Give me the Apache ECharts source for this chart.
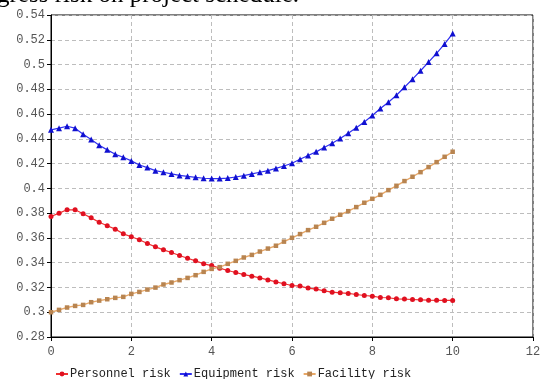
<!DOCTYPE html>
<html>
<head>
<meta charset="utf-8">
<script src="https://cdn.jsdelivr.net/npm/echarts@6/dist/echarts.min.js"></script>
<style>html,body{margin:0;padding:0;background:#fff}#c{width:545px;height:379px}</style>
</head>
<body>
<div id="c"></div>
<script>
const xValues = [0,0.2,0.4,0.6,0.8,1,1.2,1.4,1.6,1.8,2,2.2,2.4,2.6,2.8,3,3.2,3.4,3.6,3.8,4,4.2,4.4,4.6,4.8,5,5.2,5.4,5.6,5.8,6,6.2,6.4,6.6,6.8,7,7.2,7.4,7.6,7.8,8,8.2,8.4,8.6,8.8,9,9.2,9.4,9.6,9.8,10];
const personnel = [0.3773,0.3800,0.3827,0.3827,0.3795,0.3762,0.3727,0.3698,0.3671,0.3633,0.3609,0.3585,0.3555,0.3528,0.3504,0.3482,0.3458,0.3436,0.3415,0.3391,0.3377,0.3356,0.3337,0.3321,0.3304,0.3291,0.3277,0.3261,0.3245,0.3230,0.3216,0.3211,0.3195,0.3187,0.3173,0.3162,0.3157,0.3152,0.3143,0.3135,0.3130,0.3119,0.3117,0.3108,0.3106,0.3103,0.3100,0.3097,0.3096,0.3095,0.3095];
const equipment = [0.4473,0.4486,0.4502,0.4486,0.4437,0.4394,0.4348,0.4311,0.4275,0.4251,0.4222,0.4189,0.4168,0.4143,0.4130,0.4117,0.4105,0.4097,0.4089,0.4082,0.4079,0.4079,0.4083,0.4092,0.4103,0.4117,0.4130,0.4143,0.4161,0.4181,0.4203,0.4235,0.4265,0.4295,0.4330,0.4365,0.4403,0.4446,0.4490,0.4536,0.4588,0.4645,0.4696,0.4752,0.4817,0.4882,0.4950,0.5020,0.5091,0.5166,0.5250];
const facility = [0.3000,0.3019,0.3038,0.3051,0.3059,0.3081,0.3094,0.3105,0.3116,0.3124,0.3148,0.3164,0.3183,0.3199,0.3224,0.3240,0.3259,0.3277,0.3299,0.3326,0.3350,0.3364,0.3391,0.3415,0.3442,0.3463,0.3490,0.3514,0.3537,0.3570,0.3601,0.3631,0.3663,0.3690,0.3722,0.3755,0.3787,0.3816,0.3849,0.3884,0.3916,0.3948,0.3986,0.4021,0.4059,0.4094,0.4131,0.4172,0.4212,0.4255,0.4296];
const seriesNames = ['Personnel risk','Equipment risk','Facility risk'];
const xTicks = [0,2,4,6,8,10,12];
const yTicks = [0.28,0.30,0.32,0.34,0.36,0.38,0.40,0.42,0.44,0.46,0.48,0.50,0.52,0.54];
const titleText = 'gress risk on project schedule.';

function pairs(ys){ return xValues.map((x,i)=>[x, ys[i]]); }
function fmtY(v){ return String(Math.round(v*100)/100); }

const chart = echarts.init(document.getElementById('c'), null, {renderer:'canvas'});
const mono = "'Liberation Mono','DejaVu Sans Mono',monospace";
const gridLine = {show:true, lineStyle:{color:'#bdbdbd', type:[4,3], width:1}};
chart.setOption({
  animation:false,
  backgroundColor:'#fff',
  graphic:[{
    type:'text', left:-3, top:-17,
    style:{text:titleText, font:"25px 'Liberation Serif','DejaVu Serif',serif", fill:'#000'}
  }],
  grid:{left:51, right:12, top:15, bottom:42, show:true, borderColor:'#000', borderWidth:1},
  legend:{
    left:50, top:363, itemWidth:12, itemHeight:6, itemGap:8,
    textStyle:{fontFamily:mono, fontSize:12, color:'#222', padding:[0,0,0,-3]},
    data:seriesNames
  },
  xAxis:{
    type:'value', min:0, max:12, interval:2,
    axisLine:{show:true, lineStyle:{color:'#000'}},
    axisTick:{show:true, length:4, lineStyle:{color:'#000'}},
    axisLabel:{fontFamily:mono, fontSize:12, color:'#555', margin:9},
    splitLine:gridLine
  },
  yAxis:{
    type:'value', min:0.28, max:0.54, interval:0.02,
    axisLine:{show:true, lineStyle:{color:'#000'}},
    axisTick:{show:true, length:4, lineStyle:{color:'#000'}},
    axisLabel:{fontFamily:mono, fontSize:12, color:'#555', margin:6, formatter:fmtY},
    splitLine:gridLine
  },
  series:[
    {name:seriesNames[0], type:'line', data:pairs(personnel), symbol:'circle', symbolSize:5,
      lineStyle:{color:'#f03030', width:1.2}, itemStyle:{color:'#e01020'}},
    {name:seriesNames[1], type:'line', data:pairs(equipment), symbol:'triangle', symbolSize:6,
      lineStyle:{color:'#3030f0', width:1.2}, itemStyle:{color:'#1010d0'}},
    {name:seriesNames[2], type:'line', data:pairs(facility), symbol:'rect', symbolSize:4.5,
      lineStyle:{color:'#e8a868', width:1.4}, itemStyle:{color:'#b88450'}}
  ]
});
</script>
</body>
</html>
